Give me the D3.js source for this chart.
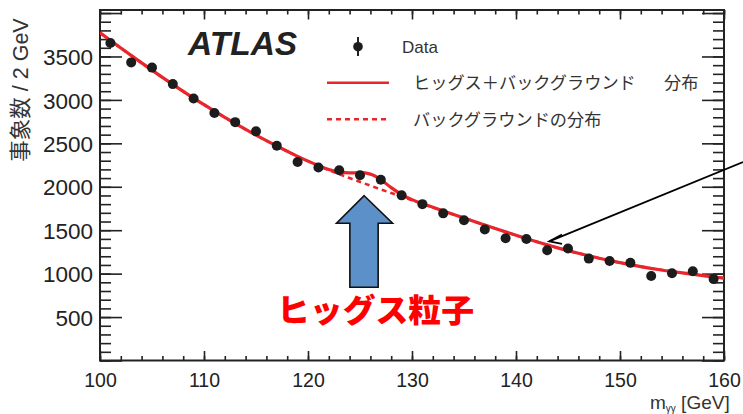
<!DOCTYPE html>
<html><head><meta charset="utf-8">
<script src="https://cdn.jsdelivr.net/npm/d3@7"></script>
<style>body{margin:0;background:#fff}</style>
</head><body>
<svg id="c" width="743" height="414"></svg>
<script>
// ---- data ----
const dataMass = [101,103,105,107,109,111,113,115,117,119,121,123,125,127,129,131,133,135,137,139,141,143,145,147,149,151,153,155,157,159];
const dataCounts = [3656,3432,3372,3182,3016,2850,2744,2638,2472,2285,2222,2190,2133,2080,1901,1800,1694,1615,1509,1408,1398,1269,1289,1173,1146,1124,973,1004,1027,937];

const bgMass = [100,102,104,106,108,110,112,114,116,118,120,122,124,126,128,130,132,134,136,138,140,142,144,146,148,150,152,154,156,158,160];
const bgValues = [3773,3598,3426,3259,3099,2945,2799,2661,2531,2409,2295,2192,2100,2013,1928,1845,1763,1681,1600,1520,1442,1367,1297,1234,1177,1126,1081,1042,1008,977,948];

const sbMass = [100,102,104,106,108,110,112,114,116,118,120,121,122,123,124,125,126,127,128,129,130,131,132,134,136,138,140,142,144,146,148,150,152,154,156,158,160];
const sbValues = [3773,3598,3426,3259,3099,2945,2799,2661,2531,2409,2295,2245,2198,2172,2160,2162,2146,2082,1990,1910,1852,1805,1763,1681,1600,1520,1442,1367,1297,1234,1177,1126,1081,1042,1008,977,948];

const xTickLabels = [100,110,120,130,140,150,160];
const yTickLabels = [500,1000,1500,2000,2500,3000,3500];
const legendLabels = ["Data", "ヒッグス＋バックグラウンド", "分布", "バックグラウンドの分布"];
const yTitle = "事象数 / 2 GeV";
const higgsLabel = "ヒッグス粒子";

// ---- layout ----
const svg = d3.select("#c");
const L = 100, R = 724, T = 10, B = 360.5;
const x = d3.scaleLinear().domain([100,160]).range([L,R]);
const y = d3.scaleLinear().domain([0,4035]).range([B,T]);
const red = "#e8262b", ink = "#222";
const latin = "'Liberation Sans', Arial, Helvetica, sans-serif";
const cjk = "'Liberation Sans', 'Noto Sans CJK JP', sans-serif";

svg.append("rect").attr("width",743).attr("height",414).attr("fill","#fff");

const clip = svg.append("defs").append("clipPath").attr("id","pc");
clip.append("rect").attr("x",L).attr("y",T).attr("width",R-L).attr("height",B-T);

// ---- axes (ticks inward, mirrored) ----
const xMinor = d3.range(100,161,2);
const yMinor = d3.range(0,4001,100);
const yMajor = d3.range(0,4001,500);

function styleAxis(g){ g.select(".domain").remove(); g.selectAll("line").attr("stroke",ink).attr("stroke-width",1.6); }

svg.append("g").attr("transform",`translate(0,${B})`)
  .call(d3.axisBottom(x).tickValues(xMinor).tickSize(-4.5).tickFormat("")).call(styleAxis);
svg.append("g").attr("transform",`translate(0,${B})`)
  .call(d3.axisBottom(x).tickValues(xTickLabels).tickSize(-9.5).tickPadding(12).tickFormat(d3.format("d")))
  .call(styleAxis)
  .call(g=>g.selectAll("text").attr("font-family",latin).attr("font-size",19.5).attr("fill",ink).attr("dy","0").attr("y",26.5));
svg.append("g").attr("transform",`translate(0,${T})`)
  .call(d3.axisTop(x).tickValues(xMinor).tickSize(-4.5).tickFormat("")).call(styleAxis);
svg.append("g").attr("transform",`translate(0,${T})`)
  .call(d3.axisTop(x).tickValues(xTickLabels).tickSize(-9.5).tickFormat("")).call(styleAxis);

svg.append("g").attr("transform",`translate(${L},0)`)
  .call(d3.axisLeft(y).tickValues(yMinor).tickSize(-11).tickFormat("")).call(styleAxis);
svg.append("g").attr("transform",`translate(${L},0)`)
  .call(d3.axisLeft(y).tickValues(yMajor).tickSize(-22).tickFormat("")).call(styleAxis);
svg.append("g").attr("transform",`translate(${L},0)`)
  .call(d3.axisLeft(y).tickValues(yTickLabels).tickSize(0).tickPadding(7).tickFormat(d3.format("d")))
  .call(styleAxis)
  .call(g=>g.selectAll("text").attr("font-family",latin).attr("font-size",22.5).attr("fill",ink).attr("dy","0.36em"));
svg.append("g").attr("transform",`translate(${R},0)`)
  .call(d3.axisRight(y).tickValues(yMinor).tickSize(-11).tickFormat("")).call(styleAxis);
svg.append("g").attr("transform",`translate(${R},0)`)
  .call(d3.axisRight(y).tickValues(yMajor).tickSize(-22).tickFormat("")).call(styleAxis);

// frame
svg.append("rect").attr("x",L).attr("y",T).attr("width",R-L).attr("height",B-T)
  .attr("fill","none").attr("stroke",ink).attr("stroke-width",2);

// ---- curves ----
const bgLine = d3.line().x((d,i)=>x(bgMass[i])).y(d=>y(d)).curve(d3.curveMonotoneX);
const sbLine = d3.line().x((d,i)=>x(sbMass[i])).y(d=>y(d)).curve(d3.curveMonotoneX);
const pg = svg.append("g").attr("clip-path","url(#pc)");
pg.append("path").attr("d",bgLine(bgValues)).attr("fill","none").attr("stroke",red)
  .attr("stroke-width",2.6).attr("stroke-dasharray","5,4");
pg.append("path").attr("d",sbLine(sbValues)).attr("fill","none").attr("stroke",red).attr("stroke-width",3.2);

// ---- data points ----
pg.selectAll("circle.pt").data(dataCounts).join("circle").attr("class","pt")
  .attr("cx",(d,i)=>x(dataMass[i])).attr("cy",d=>y(d)).attr("r",5).attr("fill","#1c1c1c");

// ---- ATLAS label ----
svg.append("text").attr("x",188).attr("y",55).attr("font-family",latin).attr("font-weight","bold")
  .attr("font-style","italic").attr("font-size",33.5).attr("fill",ink).text("ATLAS");

// ---- legend ----
const lg = svg.append("g");
lg.append("line").attr("x1",358).attr("x2",358).attr("y1",37).attr("y2",56).attr("stroke",ink).attr("stroke-width",2);
lg.append("circle").attr("cx",358).attr("cy",46.7).attr("r",4.8).attr("fill","#1c1c1c");
lg.append("text").attr("x",402).attr("y",52.7).attr("font-family",latin).attr("font-size",17).attr("fill","#333").text(legendLabels[0]);

lg.append("line").attr("x1",327).attr("x2",389).attr("y1",82.7).attr("y2",82.7).attr("stroke",red).attr("stroke-width",2.4);
const t2 = lg.append("text").attr("y",88.9).attr("font-family",cjk).attr("font-size",17.2).attr("fill","#333");
t2.append("tspan").attr("x",413).text(legendLabels[1]);
t2.append("tspan").attr("x",664).text(legendLabels[2]);

lg.append("line").attr("x1",327).attr("x2",389).attr("y1",119.3).attr("y2",119.3).attr("stroke",red)
  .attr("stroke-width",2.4).attr("stroke-dasharray","5,4");
lg.append("text").attr("x",413).attr("y",125.5).attr("font-family",cjk).attr("font-size",17.2).attr("fill","#333").text(legendLabels[3]);

// ---- axis titles ----
svg.append("text").attr("transform","translate(28,90) rotate(-90)").attr("text-anchor","middle")
  .attr("font-family",cjk).attr("font-size",21.5).attr("fill","#333").text(yTitle);
const xt = svg.append("text").attr("x",650).attr("y",409).attr("font-family",latin).attr("font-size",19).attr("fill","#333");
xt.append("tspan").text("m");
xt.append("tspan").attr("font-size",10).attr("dy",3).text("γγ");
xt.append("tspan").attr("dy",-3).text(" [GeV]");

// ---- blue Higgs arrow ----
const cx = x(125.4);
const arrowPts = [[cx,195.7],[cx+28.4,223.3],[cx+14,223.3],[cx+14,287.3],[cx-14.3,287.3],[cx-14.3,223.3],[cx-27.6,223.3]];
svg.append("polygon").attr("points",arrowPts.map(p=>p.join(",")).join(" "))
  .attr("fill","#5b91c8").attr("stroke","#111").attr("stroke-width",1.6);
svg.append("text").attr("x",277).attr("y",322).attr("font-family","'Noto Sans CJK JP', sans-serif")
  .attr("font-weight","900").attr("font-size",32).attr("fill","#ff0000")
  .attr("textLength",197).attr("lengthAdjust","spacingAndGlyphs").text(higgsLabel);

// ---- black annotation arrow ----
const tip = [x(143.2), y(1372)];
svg.append("line").attr("x1",743).attr("y1",162).attr("x2",tip[0]).attr("y2",tip[1]).attr("stroke","#000").attr("stroke-width",1.8);
svg.append("path").attr("d",`M${tip[0]+12.7},${tip[1]-6.7} L${tip[0]},${tip[1]} L${tip[0]+12.7},${tip[1]+2.6}`)
  .attr("fill","none").attr("stroke","#000").attr("stroke-width",1.8);
</script>
</body></html>
